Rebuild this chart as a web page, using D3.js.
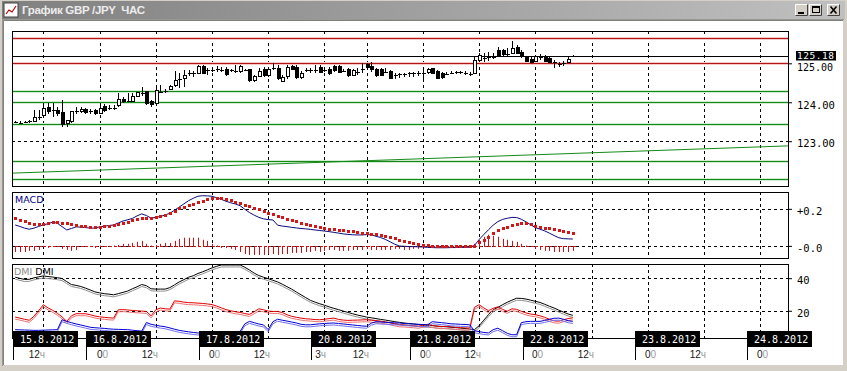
<!DOCTYPE html>
<html>
<head>
<meta charset="utf-8">
<script src="https://cdn.jsdelivr.net/npm/d3@7"></script>
<style>
  body { margin: 0; background: #d4d0c8; }
  svg { display: block; }
</style>
</head>
<body>
<svg id="chart" width="847" height="371"></svg>
<script>
// ---- data (hourly bars, index 0 = 15.8 12:00, weekend skipped) ----
const firstBar = -6;

const openP = [
  123.50,123.47,123.49,123.52,123.50,123.62,123.67,123.86,123.80,123.80,
  123.73,123.46,123.50,123.78,123.76,123.82,123.78,123.78,123.71,123.88,
  123.84,123.86,123.92,124.07,124.04,124.03,124.16,124.25,124.27,124.01,
  123.97,124.27,124.29,124.33,124.42,124.58,124.60,124.74,124.74,124.74,
  124.91,124.83,124.84,124.85,124.83,124.85,124.83,124.81,124.78,124.83,
  124.83,124.55,124.66,124.83,124.70,124.88,124.87,124.54,124.66,124.91,
  124.89,124.63,124.83,124.83,124.83,124.90,124.83,124.85,124.93,124.91,
  124.81,124.83,124.70,124.76,124.85,124.96,124.93,124.85,124.83,124.78,
  124.78,124.68,124.72,124.73,124.74,124.74,124.76,124.75,124.76,124.87,
  124.78,124.74,124.73,124.76,124.77,124.77,124.74,124.72,124.74,125.06,
  125.14,125.17,125.17,125.34,125.34,125.23,125.26,125.40,125.28,125.14,
  125.11,125.04,125.17,125.14,125.12,125.03,124.97,125.00,125.03,125.17
];
const highP = [
  123.53,123.52,123.52,123.55,123.80,123.80,123.97,123.97,123.99,123.89,
  124.07,123.55,123.76,123.89,123.89,123.85,123.82,123.82,123.97,123.95,
  123.92,123.92,124.23,124.14,124.23,124.25,124.25,124.38,124.29,124.06,
  124.44,124.44,124.35,124.44,124.80,124.74,124.83,124.82,124.80,124.95,
  124.95,124.89,124.90,124.94,124.91,124.91,124.86,124.96,124.95,124.86,
  124.86,124.70,124.88,124.90,124.90,125.00,124.95,124.70,124.95,124.96,
  124.96,124.80,124.89,124.87,124.96,124.96,124.90,124.91,124.96,124.96,
  124.86,124.87,124.85,124.87,125.00,125.02,125.04,124.89,124.87,124.87,
  124.83,124.76,124.76,124.76,124.78,124.78,124.81,124.87,124.89,124.89,
  124.83,124.78,124.78,124.81,124.81,124.81,124.80,124.78,125.17,125.26,
  125.26,125.30,125.26,125.43,125.37,125.39,125.57,125.47,125.34,125.20,
  125.17,125.21,125.23,125.21,125.20,125.08,125.04,125.06,125.17,125.21
];
const lowP = [
  123.47,123.43,123.46,123.48,123.49,123.54,123.63,123.71,123.63,123.66,
  123.37,123.37,123.48,123.71,123.73,123.71,123.71,123.68,123.70,123.76,
  123.80,123.80,123.88,123.99,124.01,124.01,124.14,124.17,123.93,123.88,
  123.93,124.23,124.23,124.31,124.40,124.36,124.40,124.67,124.66,124.73,
  124.72,124.70,124.78,124.77,124.77,124.67,124.78,124.74,124.74,124.80,
  124.52,124.52,124.64,124.64,124.64,124.83,124.56,124.52,124.60,124.82,
  124.60,124.61,124.78,124.74,124.74,124.74,124.78,124.70,124.79,124.74,
  124.77,124.66,124.67,124.70,124.74,124.85,124.78,124.64,124.67,124.76,
  124.59,124.59,124.63,124.66,124.66,124.66,124.68,124.57,124.72,124.72,
  124.59,124.61,124.69,124.72,124.72,124.72,124.70,124.67,124.72,125.04,
  125.03,125.06,125.11,125.19,125.19,125.19,125.23,125.23,125.13,125.03,
  125.00,125.03,125.08,125.03,125.00,124.87,124.91,124.94,125.00,125.15
];
const closeP = [
  123.50,123.47,123.49,123.52,123.61,123.63,123.83,123.76,123.80,123.72,
  123.43,123.52,123.76,123.78,123.82,123.73,123.78,123.70,123.84,123.80,
  123.84,123.86,124.07,124.01,124.04,124.14,124.24,124.25,123.97,123.95,
  124.29,124.27,124.29,124.40,124.57,124.60,124.70,124.74,124.74,124.91,
  124.74,124.83,124.84,124.85,124.83,124.72,124.83,124.81,124.91,124.83,
  124.55,124.66,124.80,124.70,124.83,124.89,124.61,124.63,124.89,124.83,
  124.64,124.74,124.83,124.83,124.84,124.76,124.83,124.74,124.81,124.76,
  124.81,124.70,124.81,124.77,124.86,124.88,124.83,124.70,124.70,124.78,
  124.61,124.69,124.72,124.73,124.74,124.74,124.76,124.76,124.85,124.74,
  124.61,124.64,124.73,124.76,124.77,124.77,124.74,124.72,125.07,125.19,
  125.14,125.17,125.17,125.21,125.23,125.23,125.39,125.26,125.20,125.04,
  125.03,125.17,125.17,125.04,125.02,125.03,124.97,125.00,125.11,125.18
];

const macdMain = [
  0.113,0.105,0.096,0.090,0.096,0.105,0.113,0.120,0.128,0.122,
  0.104,0.086,0.094,0.103,0.101,0.099,0.096,0.096,0.103,0.106,
  0.110,0.113,0.124,0.134,0.141,0.148,0.162,0.173,0.164,0.150,
  0.154,0.159,0.167,0.176,0.192,0.210,0.227,0.244,0.257,0.268,
  0.271,0.270,0.268,0.260,0.251,0.241,0.233,0.226,0.217,0.198,
  0.180,0.166,0.154,0.146,0.142,0.140,0.112,0.107,0.104,0.100,
  0.097,0.094,0.092,0.089,0.086,0.083,0.080,0.077,0.073,0.069,
  0.065,0.062,0.060,0.059,0.059,0.061,0.059,0.052,0.045,0.035,
  0.022,0.009,-0.001,-0.002,-0.004,-0.004,-0.005,-0.006,-0.008,-0.009,
  -0.010,-0.010,-0.010,-0.009,-0.009,-0.008,-0.008,-0.007,0.002,0.034,
  0.061,0.087,0.112,0.131,0.143,0.149,0.154,0.153,0.144,0.130,
  0.114,0.099,0.090,0.081,0.069,0.056,0.044,0.039,0.038,0.037
];
const macdSignal = [
  0.148,0.140,0.132,0.124,0.120,0.117,0.120,0.125,0.128,0.129,
  0.126,0.121,0.116,0.111,0.107,0.105,0.104,0.104,0.104,0.105,
  0.107,0.113,0.119,0.126,0.131,0.138,0.145,0.149,0.149,0.150,
  0.154,0.159,0.167,0.176,0.189,0.202,0.211,0.219,0.228,0.236,
  0.244,0.251,0.257,0.258,0.257,0.253,0.248,0.239,0.231,0.222,
  0.214,0.205,0.197,0.188,0.180,0.171,0.162,0.154,0.146,0.138,
  0.132,0.126,0.119,0.112,0.106,0.100,0.096,0.092,0.089,0.086,
  0.084,0.081,0.078,0.075,0.072,0.069,0.066,0.062,0.058,0.052,
  0.047,0.040,0.032,0.025,0.019,0.014,0.009,0.005,0.004,0.002,
  0.001,0.000,-0.001,-0.001,-0.002,-0.002,-0.002,-0.002,0.001,0.019,
  0.031,0.046,0.068,0.084,0.096,0.104,0.111,0.120,0.126,0.124,
  0.117,0.110,0.104,0.099,0.095,0.091,0.087,0.080,0.073,0.068
];
const macdHist = [
  -0.033,-0.033,-0.033,-0.027,-0.027,-0.022,0.000,-0.011,-0.005,-0.005,
  -0.016,-0.022,-0.027,-0.022,-0.005,-0.005,-0.005,-0.011,0.002,-0.005,
  0.000,0.002,0.005,0.011,0.011,0.016,0.022,0.027,0.011,0.002,
  0.005,0.011,0.016,0.016,0.027,0.038,0.044,0.044,0.044,0.044,
  0.033,0.027,0.011,0.002,-0.011,-0.011,-0.016,-0.022,-0.033,-0.044,
  -0.049,-0.049,-0.049,-0.049,-0.044,-0.044,-0.049,-0.044,-0.044,-0.038,
  -0.038,-0.038,-0.033,-0.033,-0.027,-0.033,-0.027,-0.022,-0.022,-0.027,
  -0.027,-0.027,-0.022,-0.022,-0.022,-0.016,-0.022,-0.022,-0.022,-0.022,
  -0.022,-0.016,-0.016,-0.022,-0.022,-0.016,-0.016,-0.016,-0.011,-0.011,
  -0.005,-0.005,-0.002,-0.002,-0.002,-0.002,-0.002,-0.002,0.011,0.033,
  0.049,0.060,0.054,0.049,0.038,0.033,0.027,0.022,0.011,0.002,
  -0.005,-0.016,-0.022,-0.027,-0.027,-0.033,-0.033,-0.033,-0.033,-0.027
];

const adx = [
  40.6,39.9,39.2,39.3,40.2,40.8,41.4,41.0,40.7,40.3,
  39.8,37.9,36.1,35.6,34.9,33.9,32.8,31.6,31.0,30.5,
  30.2,29.8,30.5,31.3,32.1,33.5,34.7,36.1,35.4,33.5,
  33.3,33.3,33.3,34.2,35.9,37.7,39.1,40.6,41.5,42.9,
  43.9,45.1,46.3,47.3,48.1,48.1,48.1,48.1,48.1,46.7,
  45.0,43.1,41.6,40.6,39.7,38.7,37.7,36.3,34.8,33.3,
  31.5,29.8,28.1,26.4,25.3,24.3,23.4,22.4,21.5,20.7,
  19.8,19.0,18.2,17.4,16.8,16.1,15.7,15.2,14.7,14.3,
  13.8,13.3,12.9,12.5,12.2,11.9,11.6,11.4,11.1,10.9,
  10.6,10.4,10.2,9.9,9.7,9.4,9.1,8.7,8.4,10.8,
  14.2,17.6,20.6,22.1,23.7,25.2,26.5,27.7,27.6,27.2,
  26.5,25.8,25.1,24.0,22.8,21.7,20.4,19.2,18.0,17.2
];
const plusDi = [
  16.1,15.5,14.8,14.2,16.6,20.0,23.7,21.8,20.3,18.5,
  16.3,13.5,16.9,18.2,18.2,18.2,17.6,16.8,16.3,16.0,
  15.7,15.5,20.6,20.7,20.5,20.2,20.0,19.8,19.6,16.9,
  20.6,21.7,21.2,21.0,26.1,25.8,25.3,25.0,24.9,24.7,
  24.5,24.2,23.8,22.9,21.8,20.7,20.0,19.4,19.0,18.3,
  17.8,19.4,21.2,20.6,19.8,19.6,19.6,18.9,17.6,16.6,
  16.0,15.5,15.1,14.9,14.6,14.5,14.8,15.2,15.5,14.7,
  14.3,14.1,14.2,14.3,14.4,14.5,14.2,13.9,13.6,13.2,
  12.7,12.0,11.4,11.3,11.0,10.8,10.5,11.1,11.7,11.1,
  10.5,10.2,10.5,10.2,9.9,9.6,9.5,9.4,22.1,23.7,
  21.8,20.0,21.5,22.4,20.9,19.7,21.2,20.9,19.7,18.7,
  18.0,17.6,16.9,16.0,14.8,13.8,13.6,14.5,15.2,15.7
];
const minusDi = [
  8.4,8.3,8.2,8.1,8.0,8.0,8.1,8.2,8.3,8.4,
  14.5,13.5,12.7,11.9,11.3,10.6,9.9,9.6,9.4,9.2,
  8.9,8.7,8.6,8.5,8.4,8.1,7.8,7.5,12.8,11.7,
  11.1,10.6,10.2,9.5,8.7,8.0,7.5,7.1,6.7,6.4,
  6.4,6.5,6.7,6.9,7.0,7.1,7.2,7.3,7.3,12.0,
  13.5,12.7,11.9,11.3,8.4,13.3,14.8,14.2,13.7,13.1,
  12.5,11.7,11.4,11.4,11.7,12.0,12.2,12.4,12.5,12.2,
  11.9,11.6,11.3,11.0,10.7,10.5,12.4,13.3,13.1,12.9,
  12.7,12.6,12.5,12.2,12.0,11.9,11.7,11.6,11.4,13.3,
  13.0,12.7,12.4,12.0,11.9,11.7,11.6,11.4,7.8,7.2,
  6.7,6.4,8.4,9.3,7.8,6.2,5.3,5.3,12.7,13.3,
  13.5,13.5,13.5,14.1,14.8,15.4,15.5,14.8,13.9,13.5
];

// levels drawn on the price chart
const redLevels = [125.64, 125.00];
const greenLevels = [124.30, 124.00, 123.43, 122.50, 122.04];
const trendLine = [[-6.7, 122.18], [158.9, 122.88]];
const lastPrice = 125.18;

// axis ticks
const priceTicks = [123, 124, 125];
const macdTicks = [0, 0.2];
const macdTickLabels = ['-0.0', '+0.2'];
const dmiTicks = [20, 40];

// time axis: grid ticks (bar index) and day separators
const gridBars = [0, 12, 24, 36, 48, 60, 69, 81, 93, 105, 117, 129, 141, 153];
const gridLabels = ['12ч', '00', '12ч', '00', '12ч', '3ч', '12ч', '00', '12ч', '00', '12ч', '00', '12ч', '00'];
const dayStarts = [-6.5, 9.2, 33.3, 57.1, 78.3, 102.3, 126.3, 150.2];
const dayLabels = ['15.8.2012', '16.8.2012', '17.8.2012', '20.8.2012', '21.8.2012', '22.8.2012', '23.8.2012', '24.8.2012'];

const title = 'График GBP /JPY  ЧАС';

// ---- layout ----
const PL = 12, PR = 788;
const mainP = { top: 31, bottom: 186 };
const macdP = { top: 192, bottom: 258 };
const dmiP = { top: 264, bottom: 338 };

const svg = d3.select('#chart');
const defs = svg.append('defs');

const x = d3.scaleLinear().domain([-6.68, 158.92]).range([PL, PR]);
const yPrice = d3.scaleLinear().domain([121.85, 125.83]).range([mainP.bottom, mainP.top]);
const yMacd = d3.scaleLinear().domain([-0.0654, 0.291]).range([macdP.bottom, macdP.top]);
const yDmi = d3.scaleLinear().domain([3.3, 48.7]).range([dmiP.bottom, dmiP.top]);

const bars = openP.map((o, k) => ({
  i: firstBar + k, o, h: highP[k], l: lowP[k], c: closeP[k]
}));
const px = (i) => Math.round(x(i));

// ---- window chrome ----
svg.append('rect').attr('width', 847).attr('height', 371).attr('fill', '#d4d0c8');

const grad = defs.append('linearGradient').attr('id', 'titleGrad');
grad.append('stop').attr('offset', '0%').attr('stop-color', '#808080');
grad.append('stop').attr('offset', '100%').attr('stop-color', '#c0c0c0');
svg.append('rect')
  .attr('x', 2).attr('y', 1).attr('width', 843).attr('height', 18)
  .attr('fill', 'url(#titleGrad)');

// window icon
const icon = svg.append('g').attr('transform', 'translate(4,3)');
icon.append('rect').attr('width', 14).attr('height', 14).attr('fill', '#fff').attr('stroke', '#404040');
icon.append('polyline')
  .attr('points', '2,11 5,7 8,9 12,3')
  .attr('fill', 'none').attr('stroke', '#c00000').attr('stroke-width', 1.2);

svg.append('text')
  .attr('x', 22).attr('y', 14)
  .attr('font-family', 'Liberation Sans, Arial, sans-serif')
  .attr('font-weight', 'bold').attr('font-size', 11.5)
  .attr('fill', '#ececec')
  .style('white-space', 'pre')
  .attr('textLength', 123).attr('lengthAdjust', 'spacing')
  .text(title);

// title buttons
const btnX = [795, 809, 827];
btnX.forEach((bx, k) => {
  const g = svg.append('g').attr('transform', `translate(${bx},4)`);
  g.append('rect').attr('width', 13).attr('height', 12).attr('fill', '#d4d0c8');
  g.append('path').attr('d', 'M0.5,11.5V0.5H12.5').attr('fill', 'none').attr('stroke', '#fff');
  g.append('path').attr('d', 'M0.5,11.5H12.5V0.5').attr('fill', 'none').attr('stroke', '#404040');
  if (k === 0) {
    g.append('rect').attr('x', 3).attr('y', 8).attr('width', 6).attr('height', 2).attr('fill', '#000');
  } else if (k === 1) {
    g.append('rect').attr('x', 3.5).attr('y', 2.5).attr('width', 7).attr('height', 6)
      .attr('fill', 'none').attr('stroke', '#000');
    g.append('line').attr('x1', 3).attr('x2', 11).attr('y1', 3.5).attr('y2', 3.5).attr('stroke', '#000');
  } else {
    g.append('path').attr('d', 'M3.5,2.5L9.5,9.5M9.5,2.5L3.5,9.5')
      .attr('stroke', '#000').attr('stroke-width', 1.6);
  }
});

// client area
svg.append('rect').attr('x', 4).attr('y', 21).attr('width', 839).attr('height', 344).attr('fill', '#fff');
svg.append('path').attr('d', 'M3.5,365V20.5H843').attr('fill', 'none').attr('stroke', '#808080');
svg.append('path').attr('d', 'M2.5,366V19.5H844').attr('fill', 'none').attr('stroke', '#404040').attr('stroke-opacity', 0.4);

// ---- helpers ----
function clip(id, p) {
  defs.append('clipPath').attr('id', id)
    .append('rect').attr('x', PL).attr('y', p.top)
    .attr('width', PR - PL).attr('height', p.bottom - p.top);
  return `url(#${id})`;
}

function vGrid(p) {
  svg.append('g').selectAll('line')
    .data(gridBars)
    .join('line')
    .attr('x1', (d) => px(d) + 0.5).attr('x2', (d) => px(d) + 0.5)
    .attr('y1', p.top).attr('y2', p.bottom)
    .attr('stroke', '#000').attr('stroke-dasharray', '3,3');
}

function hGrid(vals, y) {
  svg.append('g').selectAll('line')
    .data(vals)
    .join('line')
    .attr('x1', PL).attr('x2', PR)
    .attr('y1', (d) => Math.round(y(d)) + 0.5).attr('y2', (d) => Math.round(y(d)) + 0.5)
    .attr('stroke', '#000').attr('stroke-dasharray', '3,3');
}

function rightAxis(y, ticks, fmt) {
  const g = svg.append('g')
    .attr('transform', `translate(${PR},0)`)
    .call(d3.axisRight(y).tickValues(ticks).tickFormat(fmt).tickSize(4).tickPadding(5));
  g.select('.domain').remove();
  g.selectAll('line').attr('stroke', '#000');
  g.selectAll('text')
    .attr('font-family', 'DejaVu Sans Mono, monospace')
    .attr('font-size', 10.5)
    .attr('fill', '#000')
    .attr('dy', '0.55em');
  return g;
}

function frame(p) {
  svg.append('rect')
    .attr('x', PL + 0.5).attr('y', p.top + 0.5)
    .attr('width', PR - PL).attr('height', p.bottom - p.top)
    .attr('fill', 'none').attr('stroke', '#000');
}

// ---- main price chart ----
const clipMain = clip('clipMain', mainP);
vGrid(mainP);
hGrid(priceTicks, yPrice);

const levels = svg.append('g').attr('clip-path', clipMain);
levels.selectAll('.rh').data(redLevels).join('line')
  .attr('x1', PL).attr('x2', PR)
  .attr('y1', (d) => Math.round(yPrice(d)) + 0.5).attr('y2', (d) => Math.round(yPrice(d)) + 0.5)
  .attr('stroke', '#f6c8c8').attr('stroke-width', 3);
levels.selectAll('.r').data(redLevels).join('line')
  .attr('x1', PL).attr('x2', PR)
  .attr('y1', (d) => Math.round(yPrice(d)) + 0.5).attr('y2', (d) => Math.round(yPrice(d)) + 0.5)
  .attr('stroke', '#b01818');
levels.selectAll('.gh').data(greenLevels).join('line')
  .attr('x1', PL).attr('x2', PR)
  .attr('y1', (d) => Math.round(yPrice(d)) + 0.5).attr('y2', (d) => Math.round(yPrice(d)) + 0.5)
  .attr('stroke', '#d2ecd2').attr('stroke-width', 3);
levels.selectAll('.g').data(greenLevels).join('line')
  .attr('x1', PL).attr('x2', PR)
  .attr('y1', (d) => Math.round(yPrice(d)) + 0.5).attr('y2', (d) => Math.round(yPrice(d)) + 0.5)
  .attr('stroke', '#168a16');
levels.append('path')
  .datum(trendLine)
  .attr('fill', 'none').attr('stroke', '#168a16')
  .attr('d', d3.line().x((d) => x(d[0])).y((d) => yPrice(d[1])));
levels.append('line')
  .attr('x1', PL).attr('x2', PR)
  .attr('y1', Math.round(yPrice(lastPrice)) + 0.5).attr('y2', Math.round(yPrice(lastPrice)) + 0.5)
  .attr('stroke', '#000');

// candles
const candles = svg.append('g').attr('clip-path', clipMain).attr('shape-rendering', 'crispEdges');
candles.selectAll('.wick').data(bars).join('line')
  .attr('x1', (d) => px(d.i) + 0.5).attr('x2', (d) => px(d.i) + 0.5)
  .attr('y1', (d) => yPrice(d.h)).attr('y2', (d) => yPrice(d.l))
  .attr('stroke', '#000');
candles.selectAll('.body').data(bars.filter((d) => Math.abs(yPrice(d.o) - yPrice(d.c)) >= 1.5)).join('rect')
  .attr('x', (d) => px(d.i) - 1)
  .attr('y', (d) => yPrice(Math.max(d.o, d.c)))
  .attr('width', 3)
  .attr('height', (d) => Math.abs(yPrice(d.o) - yPrice(d.c)))
  .attr('fill', (d) => (d.c > d.o ? '#fff' : '#000'))
  .attr('stroke', '#000');
candles.selectAll('.doji').data(bars.filter((d) => Math.abs(yPrice(d.o) - yPrice(d.c)) < 1.5)).join('line')
  .attr('x1', (d) => px(d.i) - 1).attr('x2', (d) => px(d.i) + 3)
  .attr('y1', (d) => Math.round(yPrice(d.c)) + 0.5).attr('y2', (d) => Math.round(yPrice(d.c)) + 0.5)
  .attr('stroke', '#000');

frame(mainP);
const priceAxis = rightAxis(yPrice, priceTicks, d3.format('.2f'));
// the 125.00 label sits just under the last-price tag
priceAxis.selectAll('text').filter((d) => d === 125).attr('dy', '0.7em').attr('font-size', 10);

// last price tag
const tagY = Math.round(yPrice(lastPrice));
svg.append('rect').attr('x', 796).attr('y', tagY - 5).attr('width', 40).attr('height', 9.5).attr('fill', '#000');
svg.append('text')
  .attr('x', 797).attr('y', tagY + 3)
  .attr('font-family', 'DejaVu Sans Mono, monospace').attr('font-size', 9.5)
  .attr('textLength', 37).attr('lengthAdjust', 'spacing')
  .attr('fill', '#fff')
  .text(lastPrice.toFixed(2));

// ---- MACD ----
const clipMacd = clip('clipMacd', macdP);
vGrid(macdP);
hGrid(macdTicks, yMacd);

const macdG = svg.append('g').attr('clip-path', clipMacd);
const zeroY = Math.round(yMacd(0)) + 0.5;
macdG.selectAll('.hbar').data(macdHist).join('line')
  .attr('x1', (d, k) => px(firstBar + k) + 0.5).attr('x2', (d, k) => px(firstBar + k) + 0.5)
  .attr('y1', zeroY).attr('y2', (d) => yMacd(d))
  .attr('stroke', '#d01010');
macdG.selectAll('.hcap').data(macdHist).join('line')
  .attr('x1', (d, k) => px(firstBar + k)).attr('x2', (d, k) => px(firstBar + k) + 3)
  .attr('y1', zeroY).attr('y2', zeroY)
  .attr('stroke', '#d01010');
macdG.append('path')
  .datum(macdMain)
  .attr('fill', 'none').attr('stroke', '#0a0a78').attr('stroke-width', 1)
  .attr('d', d3.line().x((d, k) => x(firstBar + k)).y((d) => yMacd(d)));
macdG.selectAll('.sig').data(macdSignal).join('rect')
  .attr('x', (d, k) => px(firstBar + k) - 1)
  .attr('y', (d) => Math.round(yMacd(d)) - 1)
  .attr('width', 3).attr('height', 3)
  .attr('fill', '#d01818');

frame(macdP);
rightAxis(yMacd, macdTicks, (d, k) => macdTickLabels[k]);
svg.append('text')
  .attr('x', 15).attr('y', 203)
  .attr('font-family', 'DejaVu Sans, sans-serif').attr('font-size', 9.5)
  .attr('fill', '#000080')
  .text('MACD');

// ---- DMI ----
const clipDmi = clip('clipDmi', dmiP);
vGrid(dmiP);
hGrid(dmiTicks, yDmi);

const dmiG = svg.append('g').attr('clip-path', clipDmi);
const dmiLine = (offset) => d3.line().x((d, k) => x(firstBar + k)).y((d) => yDmi(d) + offset);
const dmiSeries = [
  { values: adx, color: '#000', shade: '#909090' },
  { values: plusDi, color: '#e00000', shade: '#f07070' },
  { values: minusDi, color: '#0000d0', shade: '#7070f0' }
];
dmiSeries.forEach((s) => {
  dmiG.append('path').datum(s.values)
    .attr('fill', 'none').attr('stroke', s.shade)
    .attr('d', dmiLine(2));
  dmiG.append('path').datum(s.values)
    .attr('fill', 'none').attr('stroke', s.color)
    .attr('d', dmiLine(0));
});

frame(dmiP);
rightAxis(yDmi, dmiTicks, d3.format('d'));
const dmiLabel = svg.append('text')
  .attr('x', 14).attr('y', 275)
  .attr('font-family', 'DejaVu Sans, sans-serif').attr('font-size', 9.5);
dmiLabel.append('tspan').attr('fill', '#8c8c8c').text('DMI ');
dmiLabel.append('tspan').attr('fill', '#000').text('DMI');

// ---- time axis ----
const days = svg.append('g');
days.selectAll('rect').data(dayStarts).join('rect')
  .attr('x', (d) => px(d)).attr('y', 331)
  .attr('width', 65).attr('height', 16)
  .attr('fill', '#000');
days.selectAll('text').data(dayStarts).join('text')
  .attr('x', (d) => px(d) + 7).attr('y', 343)
  .attr('font-family', 'DejaVu Sans Mono, monospace').attr('font-size', 10)
  .attr('fill', '#fff')
  .text((d, k) => dayLabels[k]);
days.selectAll('line').data(dayStarts).join('line')
  .attr('x1', (d) => px(d) + 0.5).attr('x2', (d) => px(d) + 0.5)
  .attr('y1', 347).attr('y2', 360)
  .attr('stroke', '#000');

const hours = svg.append('g')
  .attr('font-family', 'Liberation Sans, Arial, sans-serif')
  .attr('font-size', 10);
gridBars.forEach((b, k) => {
  const lab = gridLabels[k];
  const t = hours.append('text')
    .attr('x', px(b) + (lab === '00' ? 8 : 2))
    .attr('y', 358)
    .attr('text-anchor', 'end');
  t.append('tspan').attr('fill', '#202020').text(lab.slice(0, -1));
  t.append('tspan').attr('fill', '#9a9a9a').text(lab.slice(-1));
});
</script>
</body>
</html>
